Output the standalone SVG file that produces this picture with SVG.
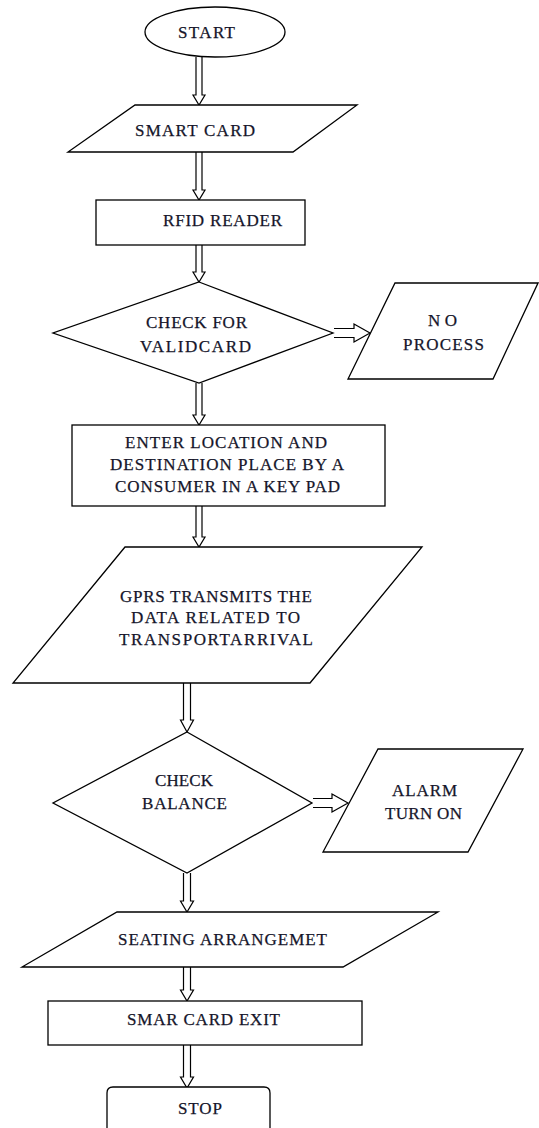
<svg xmlns="http://www.w3.org/2000/svg" width="539" height="1128" viewBox="0 0 539 1128">
<style>
.s{fill:#fff;stroke:#000;stroke-width:1.3;stroke-linejoin:miter}
.t{font-family:"Liberation Serif","Times New Roman",serif;font-size:17px;fill:#15152a;stroke:#15152a;stroke-width:0.25;text-anchor:start}
.a{fill:#fff;stroke:#000;stroke-width:1.2}
</style>
<rect width="539" height="1128" fill="#fff"/>
<g id="connectors">
<polyline class="a" points="196,57 196,95 193,95 199,105 205,95 202,95 202,57"/>
<polyline class="a" points="196,152 196,190 193,190 199,200 205,190 202,190 202,152"/>
<polyline class="a" points="196,245 196,272 193,272 199,282 205,272 202,272 202,245"/>
<polyline class="a" points="334,328.5 354,328.5 354,324 370,333 354,342 354,337.5 334,337.5"/>
<polyline class="a" points="196,383 196,415 193,415 199,425 205,415 202,415 202,383"/>
<polyline class="a" points="196,506 196,537 193,537 199,547 205,537 202,537 202,506"/>
<polyline class="a" points="183.5,683 183.5,720 180.5,720 187,732 193.5,720 190.5,720 190.5,683"/>
<polyline class="a" points="313,798.5 332,798.5 332,794 348,803 332,812 332,807.5 313,807.5"/>
<polyline class="a" points="183.5,873 183.5,901 180.5,901 187,912 193.5,901 190.5,901 190.5,873"/>
<polyline class="a" points="183.5,967 183.5,990 180.5,990 187,1001 193.5,990 190.5,990 190.5,967"/>
<polyline class="a" points="183.5,1045 183.5,1077 180.5,1077 187,1088 193.5,1077 190.5,1077 190.5,1045"/>
</g>
<g id="start">
<ellipse class="s" cx="215" cy="32" rx="70" ry="25"/>
<text class="t" x="178" y="38" textLength="57" lengthAdjust="spacing">START</text>
</g>
<g id="smartcard">
<polygon class="s" points="135,105 357,105 293,152 68,152"/>
<text class="t" x="135" y="136" textLength="120" lengthAdjust="spacing">SMART CARD</text>
</g>
<g id="rfid">
<rect class="s" x="96" y="200" width="209" height="45"/>
<text class="t" x="163" y="226" textLength="119" lengthAdjust="spacing">RFID READER</text>
</g>
<g id="checkvalid">
<polygon class="s" points="199,282 333,333 199,383 53,333"/>
<text class="t" x="146" y="328" textLength="101" lengthAdjust="spacing">CHECK FOR</text>
<text class="t" x="140" y="352" textLength="111" lengthAdjust="spacing">VALIDCARD</text>
</g>
<g id="noprocess">
<polygon class="s" points="395,283 538,283 493,379 348,379"/>
<text class="t" x="428" y="326" textLength="29" lengthAdjust="spacing">NO</text>
<text class="t" x="403" y="350" textLength="81" lengthAdjust="spacing">PROCESS</text>
</g>
<g id="enter">
<rect class="s" x="72" y="425" width="313" height="81"/>
<text class="t" x="125" y="448" textLength="202" lengthAdjust="spacing">ENTER LOCATION AND</text>
<text class="t" x="110" y="470" textLength="234" lengthAdjust="spacing">DESTINATION PLACE BY A</text>
<text class="t" x="115" y="492" textLength="225" lengthAdjust="spacing">CONSUMER IN A KEY PAD</text>
</g>
<g id="gprs">
<polygon class="s" points="125,547 422,547 310,683 13,683"/>
<text class="t" x="120" y="602" textLength="192" lengthAdjust="spacing">GPRS TRANSMITS THE</text>
<text class="t" x="131" y="623" textLength="169" lengthAdjust="spacing">DATA RELATED TO</text>
<text class="t" x="119" y="645" textLength="194" lengthAdjust="spacing">TRANSPORTARRIVAL</text>
</g>
<g id="checkbalance">
<polygon class="s" points="187,732 312,803 187,873 53,803"/>
<text class="t" x="155" y="786" textLength="58" lengthAdjust="spacing">CHECK</text>
<text class="t" x="142" y="809" textLength="85" lengthAdjust="spacing">BALANCE</text>
</g>
<g id="alarm">
<polygon class="s" points="378,749 523,749 468,852 323,852"/>
<text class="t" x="392" y="796" textLength="65" lengthAdjust="spacing">ALARM</text>
<text class="t" x="385" y="819" textLength="77" lengthAdjust="spacing">TURN ON</text>
</g>
<g id="seating">
<polygon class="s" points="117,912 438,912 343,967 22,967"/>
<text class="t" x="118" y="945" textLength="209" lengthAdjust="spacing">SEATING ARRANGEMET</text>
</g>
<g id="exit">
<rect class="s" x="48" y="1001" width="314" height="44"/>
<text class="t" x="127" y="1025" textLength="153" lengthAdjust="spacing">SMAR CARD EXIT</text>
</g>
<g id="stop">
<path class="s" d="M107,1130 V1093 Q107,1087 113,1087 H264 Q270,1087 270,1093 V1130"/>
<text class="t" x="178" y="1114" textLength="44" lengthAdjust="spacing">STOP</text>
</g>
</svg>
